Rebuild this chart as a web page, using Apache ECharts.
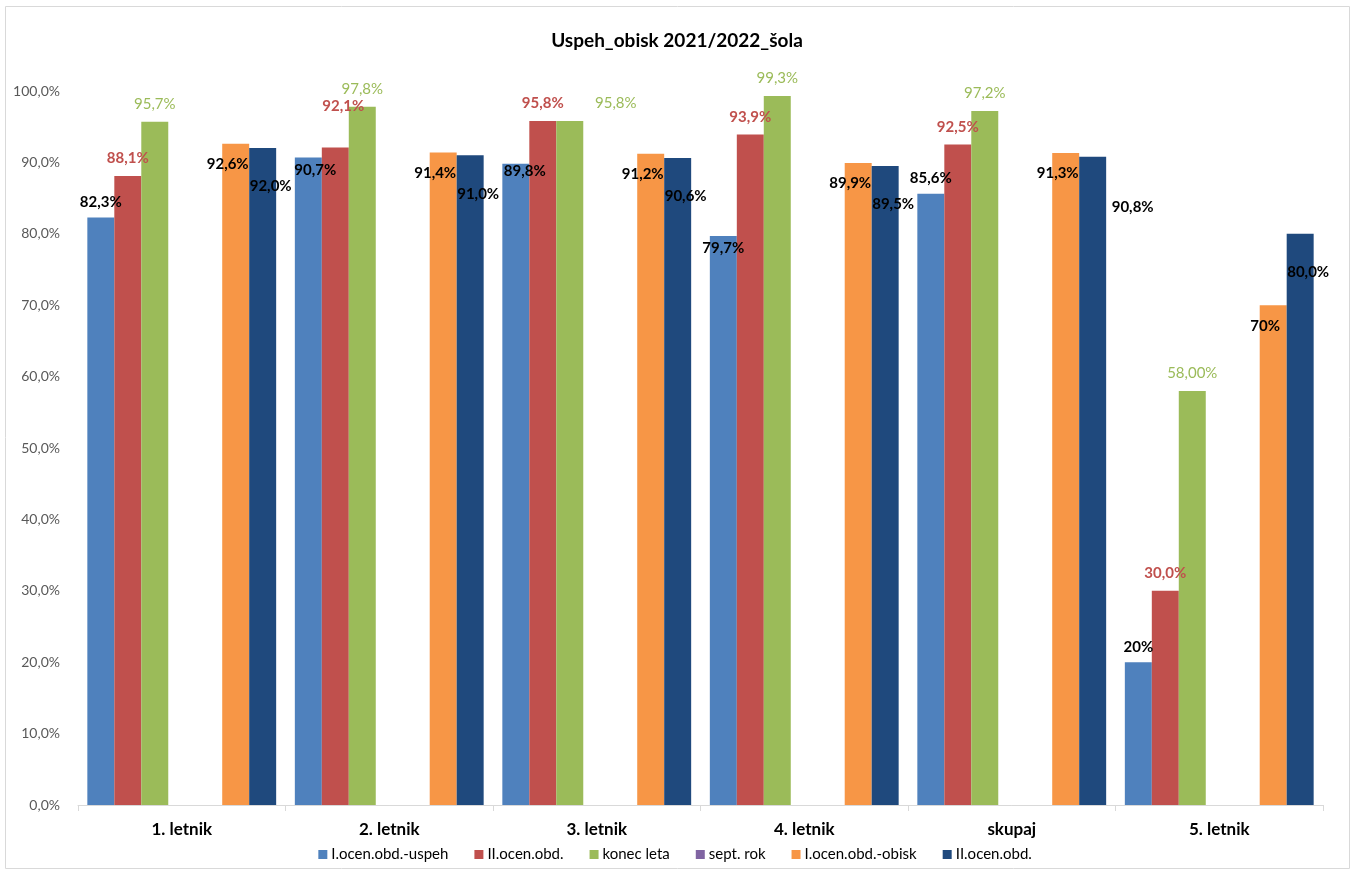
<!DOCTYPE html>
<html>
<head>
<meta charset="utf-8">
<script src="https://cdn.jsdelivr.net/npm/echarts@6/dist/echarts.min.js"></script>
<style>
  html, body { margin: 0; padding: 0; background: #fff; }
  #chart { width: 1354px; height: 874px; }
</style>
</head>
<body>
<div id="chart"></div>
<script>
// kategorije in vrednosti (v %)
const categories = ['1. letnik', '2. letnik', '3. letnik', '4. letnik', 'skupaj', '5. letnik']
const seriesNames = ['I.ocen.obd.-uspeh', 'II.ocen.obd.', 'konec leta', 'sept. rok', 'I.ocen.obd.-obisk', 'II.ocen.obd. ']
const uspeh1 = [82.3, 90.7, 89.8, 79.7, 85.6, 20]
const uspeh2 = [88.1, 92.1, 95.8, 93.9, 92.5, 30.0]
const konecLeta = [95.7, 97.8, 95.8, 99.3, 97.2, 58.0]
const septRok = [null, null, null, null, null, null]
const prazno = [null, null, null, null, null, null]
const obisk1 = [92.6, 91.4, 91.2, 89.9, 91.3, 70]
const obisk2 = [92.0, 91.0, 90.6, 89.5, 90.8, 80.0]
// število decimalk v oznakah (kot v izvirniku)
const uspeh1Dec = [1, 1, 1, 1, 1, 0]
const uspeh2Dec = [1, 1, 1, 1, 1, 1]
const konecDec = [1, 1, 1, 1, 1, 2]
const obisk1Dec = [1, 1, 1, 1, 1, 0]
const obisk2Dec = [1, 1, 1, 1, 1, 1]
const yTicks = [0, 10, 20, 30, 40, 50, 60, 70, 80, 90, 100]

const font = 'Lato, "Open Sans", sans-serif'
const pct = (v, d) => v.toFixed(d).replace('.', ',') + '%'
const fmt = decs => p => pct(p.value, decs[p.dataIndex])

// ročno premaknjene oznake (kot v Excelu)
const moved = (arr, shifts) => arr.map((v, i) => shifts[i] ? { value: v, label: { offset: shifts[i] } } : v)

let myChart = echarts.init(document.getElementById('chart'))

let option = {
  animation: false,
  textStyle: { fontFamily: font },
  color: ['#4F81BD', '#C0504D', '#9BBB59', '#8064A2', '#FFFFFF', '#F79646', '#1F497D'],
  title: {
    text: 'Uspeh_obisk 2021/2022_šola',
    left: 'center',
    top: 26,
    textStyle: { fontFamily: font, fontSize: 19, fontWeight: 'bold', color: '#000' }
  },
  graphic: [{
    type: 'rect',
    shape: { x: 5.5, y: 6.5, width: 1344, height: 862 },
    style: { fill: 'none', stroke: '#d9d9d9', lineWidth: 1 },
    silent: true
  }],
  legend: {
    bottom: 7,
    left: 'center',
    itemWidth: 9,
    itemHeight: 9,
    itemGap: 26,
    icon: 'rect',
    textStyle: { fontFamily: font, fontSize: 15, color: '#000', padding: [0, 0, 0, -1] },
    data: seriesNames
  },
  grid: { left: 78, right: 31, top: 91, bottom: 69 },
  xAxis: {
    type: 'category',
    data: categories,
    axisLine: { lineStyle: { color: '#d9d9d9' } },
    axisTick: { show: true, length: 6, lineStyle: { color: '#d9d9d9' } },
    axisLabel: { fontFamily: font, fontSize: 17, fontWeight: 'bold', color: '#000', margin: 16 }
  },
  yAxis: {
    type: 'value',
    min: yTicks[0],
    max: yTicks[yTicks.length - 1],
    interval: 10,
    splitLine: { show: false },
    axisLine: { show: false },
    axisLabel: { fontFamily: font, fontSize: 14, color: '#595959', margin: 18, formatter: v => pct(v, 1) }
  },
  series: [
    {
      name: seriesNames[0], type: 'bar', barGap: '0%', barCategoryGap: '9%',
      data: moved(uspeh1, [null, [7, 28], [9, 23], [0, 28]]),
      label: { show: true, position: 'top', distance: 8, formatter: fmt(uspeh1Dec),
        fontFamily: font, fontSize: 15, fontWeight: 'bold', color: '#000' }
    },
    {
      name: seriesNames[1], type: 'bar',
      data: moved(uspeh2, [null, [8, -24]]),
      label: { show: true, position: 'top', distance: 10, formatter: fmt(uspeh2Dec),
        fontFamily: font, fontSize: 15, fontWeight: 'bold', color: '#C0504D' }
    },
    {
      name: seriesNames[2], type: 'bar',
      data: moved(konecLeta, [null, null, [46, 0]]),
      label: { show: true, position: 'top', distance: 10, formatter: fmt(konecDec),
        fontFamily: font, fontSize: 15, color: '#9BBB59' }
    },
    { name: seriesNames[3], type: 'bar', data: septRok },
    { name: 'prazno', type: 'bar', data: prazno },
    {
      name: seriesNames[4], type: 'bar', data: obisk1,
      label: { show: true, position: 'insideTop', offset: [-8, 8], formatter: fmt(obisk1Dec),
        fontFamily: font, fontSize: 15, fontWeight: 'bold', color: '#000' }
    },
    {
      name: seriesNames[5], type: 'bar',
      data: moved(obisk2, [null, null, null, null, [40, 38]]),
      label: { show: true, position: 'insideTop', offset: [8, 26], formatter: fmt(obisk2Dec),
        fontFamily: font, fontSize: 15, fontWeight: 'bold', color: '#000' }
    }
  ]
}

myChart.setOption(option)
</script>
</body>
</html>
